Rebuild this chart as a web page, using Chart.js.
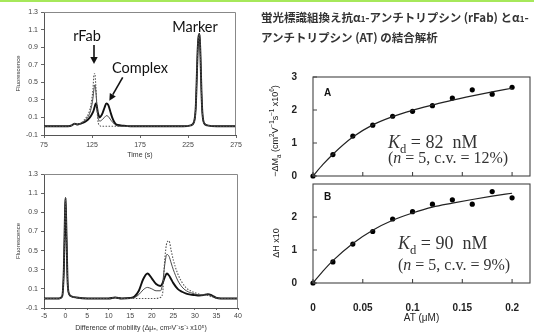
<!DOCTYPE html>
<html><head><meta charset="utf-8">
<script src="https://cdn.jsdelivr.net/npm/chart.js@4.4.1/dist/chart.umd.min.js"></script>
<style>
html,body{margin:0;padding:0;background:#fff;}
body{width:534px;height:334px;position:relative;overflow:hidden;font-family:"Liberation Sans",Arial,sans-serif;}
.box{position:absolute;}
canvas{display:block;}
.t{position:absolute;white-space:nowrap;color:#111;}
.c{transform:translate(-50%,-50%);}
.jp{font-family:'Noto Sans CJK JP',sans-serif;font-size:11.5px;line-height:14px;font-weight:700;color:#333;}
.ser{font-family:"Liberation Serif","Times New Roman",serif;color:#333;}
.rot{transform:translate(-50%,-50%) rotate(-90deg);font-size:9px;color:#222;}
sub,sup{font-size:70%;line-height:0;}
</style></head><body>
<div style="position:absolute;left:0;top:0;width:534px;height:2px;background:#a6e85a"></div>

<div class="box" style="left:0;top:0"><canvas id="cTime" width="250" height="165"></canvas></div>
<div class="box" style="left:0;top:165px"><canvas id="cMob" width="250" height="169"></canvas></div>
<div class="box" style="left:260px;top:170px"><canvas id="cB" width="274" height="164"></canvas></div>
<div class="box" style="left:260px;top:60px"><canvas id="cA" width="274" height="130"></canvas></div>

<svg style="position:absolute;left:0;top:0" width="260" height="165">
  <line x1="94" y1="45" x2="94" y2="58" stroke="#111" stroke-width="1.6"/>
  <polygon points="90.3,57 97.7,57 94,64" fill="#111"/>
  <line x1="122.7" y1="77.3" x2="112.8" y2="94.6" stroke="#111" stroke-width="1.6"/>
  <polygon points="115.8,96.4 109.8,92.9 109.3,100.7" fill="#111"/>
</svg>
<div class="t c" style="left:87px;top:35px;font-family:Lato,'Open Sans',sans-serif;font-size:14.5px;">rFab</div>
<div class="t c" style="left:140px;top:67px;font-family:Lato,'Open Sans',sans-serif;font-size:14.5px;">Complex</div>
<div class="t c" style="left:195px;top:26px;font-family:Lato,'Open Sans',sans-serif;font-size:14.5px;">Marker</div>

<div class="t jp" style="left:261px;top:10px;">蛍光標識組換え抗α<span style="font-size:8px">1</span>-アンチトリプシン (rFab) とα<span style="font-size:8px">1</span>-</div>
<div class="t jp" style="left:261px;top:30px;">アンチトリプシン (AT) の結合解析</div>

<div class="t" style="left:324px;top:87px;font-weight:bold;font-size:10px;">A</div>
<div class="t" style="left:324px;top:191px;font-weight:bold;font-size:10px;">B</div>

<div class="t ser" style="left:388px;top:132px;font-size:18px;"><i>K</i><sub>d</sub> = 82&nbsp; nM</div>
<div class="t ser" style="left:388px;top:149px;font-size:16px;">(<i>n</i> = 5, c.v. = 12%)</div>
<div class="t ser" style="left:398px;top:233px;font-size:18px;"><i>K</i><sub>d</sub> = 90&nbsp; nM</div>
<div class="t ser" style="left:398px;top:256px;font-size:16px;">(<i>n</i> = 5, c.v. = 9%)</div>

<div class="t rot" style="left:275px;top:131px;">−ΔM<sub>a</sub> (cm<sup>2</sup>V<sup>−1</sup>s<sup>−1</sup> x10<sup>6</sup>)</div>
<div class="t rot" style="left:276px;top:243px;">ΔH x10</div>

<script>
// ---- electropherogram vs time ----
const timeS      = [75,100,104,107,110,113,116,119,122,124,126,127,128,129,130,131,132,133,134,136,138,140,142,144,146,148,150,155,165,180,200,220,228,231,233,234,235,236,237,238,239,240,242,245,255,275];
const timeThick  = [0,0,0.01,0.03,0.02,0.03,0.04,0.06,0.09,0.12,0.16,0.19,0.23,0.26,0.23,0.16,0.12,0.10,0.11,0.15,0.21,0.26,0.24,0.17,0.10,0.05,0.02,0.01,0,0,0,0,0.01,0.04,0.2,0.5,0.85,1.02,1.05,0.8,0.4,0.15,0.03,0.01,0,0];
const timeThin   = [0,0,0.01,0.03,0.02,0.03,0.05,0.08,0.13,0.20,0.32,0.42,0.47,0.40,0.25,0.12,0.07,0.06,0.06,0.08,0.10,0.12,0.11,0.08,0.05,0.03,0.01,0,0,0,0,0,0.01,0.04,0.2,0.5,0.85,1.02,1.05,0.8,0.4,0.15,0.03,0.01,0,0];
const timeDotted = [0,0,0.01,0.03,0.02,0.03,0.06,0.10,0.16,0.25,0.42,0.58,0.60,0.45,0.25,0.08,0.02,0.01,0,0,0,0,0,0,0,0,0,0,0,0,0,0,0.01,0.04,0.2,0.5,0.85,1.02,1.05,0.8,0.4,0.15,0.03,0.01,0,0];
const timeTicks  = [75,125,175,225,275];

// ---- electropherogram vs mobility difference ----
const mobility  = [-5,-1.5,-0.8,-0.4,-0.1,0,0.2,0.5,0.9,1.5,2.5,5,10,11.5,13,15,16,17,18,19,20,21,22,22.5,23,23.5,24,24.5,25,26,27,28,29,30,31,32,33,34,35,36,40];
const mobThick  = [0,0,0.02,0.3,0.95,1.05,0.7,0.15,0.04,0.02,0.01,0,0,0.01,0,0.005,0.02,0.08,0.2,0.26,0.21,0.15,0.13,0.16,0.22,0.26,0.24,0.2,0.16,0.1,0.07,0.05,0.04,0.035,0.03,0.035,0.045,0.03,0.005,0,0];
const mobThin   = [0,0,0.02,0.3,0.95,1.05,0.7,0.15,0.04,0.02,0.01,0,0,0.01,0,0.005,0.01,0.04,0.09,0.115,0.1,0.08,0.08,0.15,0.35,0.46,0.44,0.37,0.3,0.19,0.12,0.08,0.06,0.045,0.035,0.035,0.04,0.025,0.005,0,0];
const mobDotted = [0,0,0.02,0.3,0.95,1.05,0.7,0.15,0.04,0.02,0.01,0,0,0.01,0,0,0,0,0,0,0,0,0.01,0.05,0.4,0.58,0.6,0.5,0.4,0.26,0.17,0.11,0.08,0.06,0.045,0.035,0.03,0.015,0.005,0,0];
const mobTicks  = [-5,0,5,10,15,20,25,30,35,40];
const fluorTicks = [-0.1,0.1,0.3,0.5,0.7,0.9,1.1,1.3];

// ---- binding curves ----
const atUM   = [0,0.02,0.04,0.06,0.08,0.10,0.12,0.14,0.16,0.18,0.20];
const pointsA = [0,0.65,1.21,1.54,1.81,1.96,2.13,2.36,2.61,2.48,2.69];
const pointsB = [0,0.64,1.18,1.56,1.94,2.16,2.39,2.52,2.39,2.77,2.58];
const fitAT  = [0,0.01,0.02,0.04,0.06,0.08,0.10,0.12,0.14,0.16,0.18,0.20];
const fitA   = [0,0.35,0.66,1.18,1.55,1.80,1.99,2.15,2.30,2.43,2.55,2.66];
const fitB   = [0,0.36,0.68,1.20,1.60,1.90,2.12,2.30,2.42,2.53,2.63,2.72];
const atTicks   = [0,0.05,0.1,0.15,0.2];
const atLabels  = ['0','0.05','0.1','0.15','0.2'];
const yTicksA   = [0,1,2,3];
const yTicksB   = [0,1,2];

Chart.defaults.font.family = '"Liberation Sans", Arial, sans-serif';
Chart.defaults.animation = false;
Chart.defaults.plugins.legend.display = false;
Chart.defaults.plugins.tooltip.enabled = false;

const pairs = (xs, ys) => xs.map((x, i) => ({x, y: ys[i]}));
const setTicks = arr => (s => { s.ticks = arr.map(v => ({value: v})); });

const topRight = {
  id: 'topRight',
  afterDraw(chart) {
    const {ctx, chartArea: a} = chart;
    ctx.save(); ctx.strokeStyle = '#888'; ctx.lineWidth = 1;
    ctx.beginPath(); ctx.moveTo(a.left, a.top + 0.5); ctx.lineTo(a.right - 0.5, a.top + 0.5); ctx.lineTo(a.right - 0.5, a.bottom);
    ctx.stroke(); ctx.restore();
  }
};
const frameIn = yTicks => ({
  id: 'frameIn',
  afterDraw(chart) {
    const {ctx, chartArea: a} = chart;
    const xs = chart.scales.x, ys = chart.scales.y;
    ctx.save(); ctx.strokeStyle = '#444'; ctx.lineWidth = 1.1;
    ctx.strokeRect(a.left, a.top, a.right - a.left, a.bottom - a.top);
    ctx.beginPath();
    atTicks.forEach(v => { const p = xs.getPixelForValue(v); ctx.moveTo(p, a.bottom); ctx.lineTo(p, a.bottom - 4); });
    yTicks.forEach(v => { const p = ys.getPixelForValue(v); ctx.moveTo(a.left, p); ctx.lineTo(a.left + 4, p); });
    ctx.stroke(); ctx.restore();
  }
});

function traceChart(id, xs, th, tn, dt, xmin, xmax, xTicks, xTitle, geo) {
  const lineDs = (ys, w, color, dash) => ({
    data: pairs(xs, ys), showLine: true, pointRadius: 0, borderColor: color, borderWidth: w,
    borderDash: dash, cubicInterpolationMode: 'monotone'
  });
  new Chart(document.getElementById(id), {
    type: 'scatter',
    data: { datasets: [
      lineDs(dt, 1.1, '#555', [1.5, 1.5]),
      lineDs(tn, 0.9, '#333', []),
      lineDs(th, 1.9, '#111', [])
    ]},
    options: {
      responsive: false,
      layout: { padding: geo.pad },
      scales: {
        x: { type: 'linear', min: xmin, max: xmax, afterBuildTicks: setTicks(xTicks),
             afterFit: s => { s.height = geo.xh; },
             grid: { drawOnChartArea: false, tickLength: geo.tl, color: '#666' },
             border: { color: '#555', width: 1 },
             ticks: { font: { size: 7 }, color: '#444', padding: geo.tp, maxRotation: 0 },
             title: { display: true, text: xTitle, font: { size: 7 }, color: '#333', padding: { top: 0, bottom: geo.tpb } } },
        y: { type: 'linear', min: -0.1, max: 1.3, afterBuildTicks: setTicks(fluorTicks),
             afterFit: s => { s.width = 44; },
             grid: { drawOnChartArea: false, tickLength: 3, color: '#666' },
             border: { color: '#555', width: 1 },
             ticks: { font: { size: 7 }, color: '#444', padding: 3, callback: v => v.toFixed(1) },
             title: { display: true, text: 'Fluorescence', font: { size: 6 }, color: '#333', padding: { top: 14.4, bottom: 0 } } }
      }
    },
    plugins: [topRight]
  });
}

traceChart('cTime', timeS, timeThick, timeThin, timeDotted, 75, 275, timeTicks, 'Time (s)',
  { pad: { left: 0, top: 12, right: 14, bottom: 0 }, xh: 30, tl: 3, tp: 3, tpb: 5.8 });
traceChart('cMob', mobility, mobThick, mobThin, mobDotted, -5, 40, mobTicks,
  'Difference of mobility (Δμₑ, cm²V⁻¹s⁻¹ x10⁵)',
  { pad: { left: 0, top: 9, right: 12, bottom: 0 }, xh: 26, tl: 2, tp: 2, tpb: 1.8 });

function bindChart(id, pts, fit, yTicks, showX, geo) {
  new Chart(document.getElementById(id), {
    type: 'scatter',
    data: { datasets: [
      { data: pairs(fitAT, fit), showLine: true, pointRadius: 0, borderColor: '#222', borderWidth: 1.2, cubicInterpolationMode: 'monotone' },
      { data: pairs(atUM, pts), showLine: false, pointRadius: 2.6, backgroundColor: '#000', borderColor: '#000', borderWidth: 0 }
    ]},
    options: {
      responsive: false,
      clip: false,
      layout: { padding: geo.pad },
      scales: {
        x: { type: 'linear', min: 0, max: 0.218, afterBuildTicks: setTicks(atTicks),
             afterFit: s => { s.height = geo.xh; },
             grid: { display: false }, border: { display: false },
             ticks: { display: showX, font: { size: 10, weight: 'bold' }, color: '#222', padding: 11,
                      callback: (v, i) => atLabels[i], maxRotation: 0 },
             title: { display: showX, text: 'AT (μM)', font: { size: 10 }, color: '#222', padding: { top: 0, bottom: 10 } } },
        y: { type: 'linear', min: 0, max: 3, afterBuildTicks: setTicks(yTicks),
             afterFit: s => { s.width = 53; },
             grid: { display: false }, border: { display: false },
             ticks: { font: { size: 10, weight: 'bold' }, color: '#222', padding: 8 } }
      }
    },
    plugins: [frameIn(yTicks)]
  });
}

bindChart('cA', pointsA, fitA, yTicksA, false, { pad: { left: 0, top: 17, right: 4, bottom: 0 }, xh: 11 });
bindChart('cB', pointsB, fitB, yTicksB, true, { pad: { left: 0, top: 9, right: 4, bottom: 0 }, xh: 51 });
</script>
</body></html>
